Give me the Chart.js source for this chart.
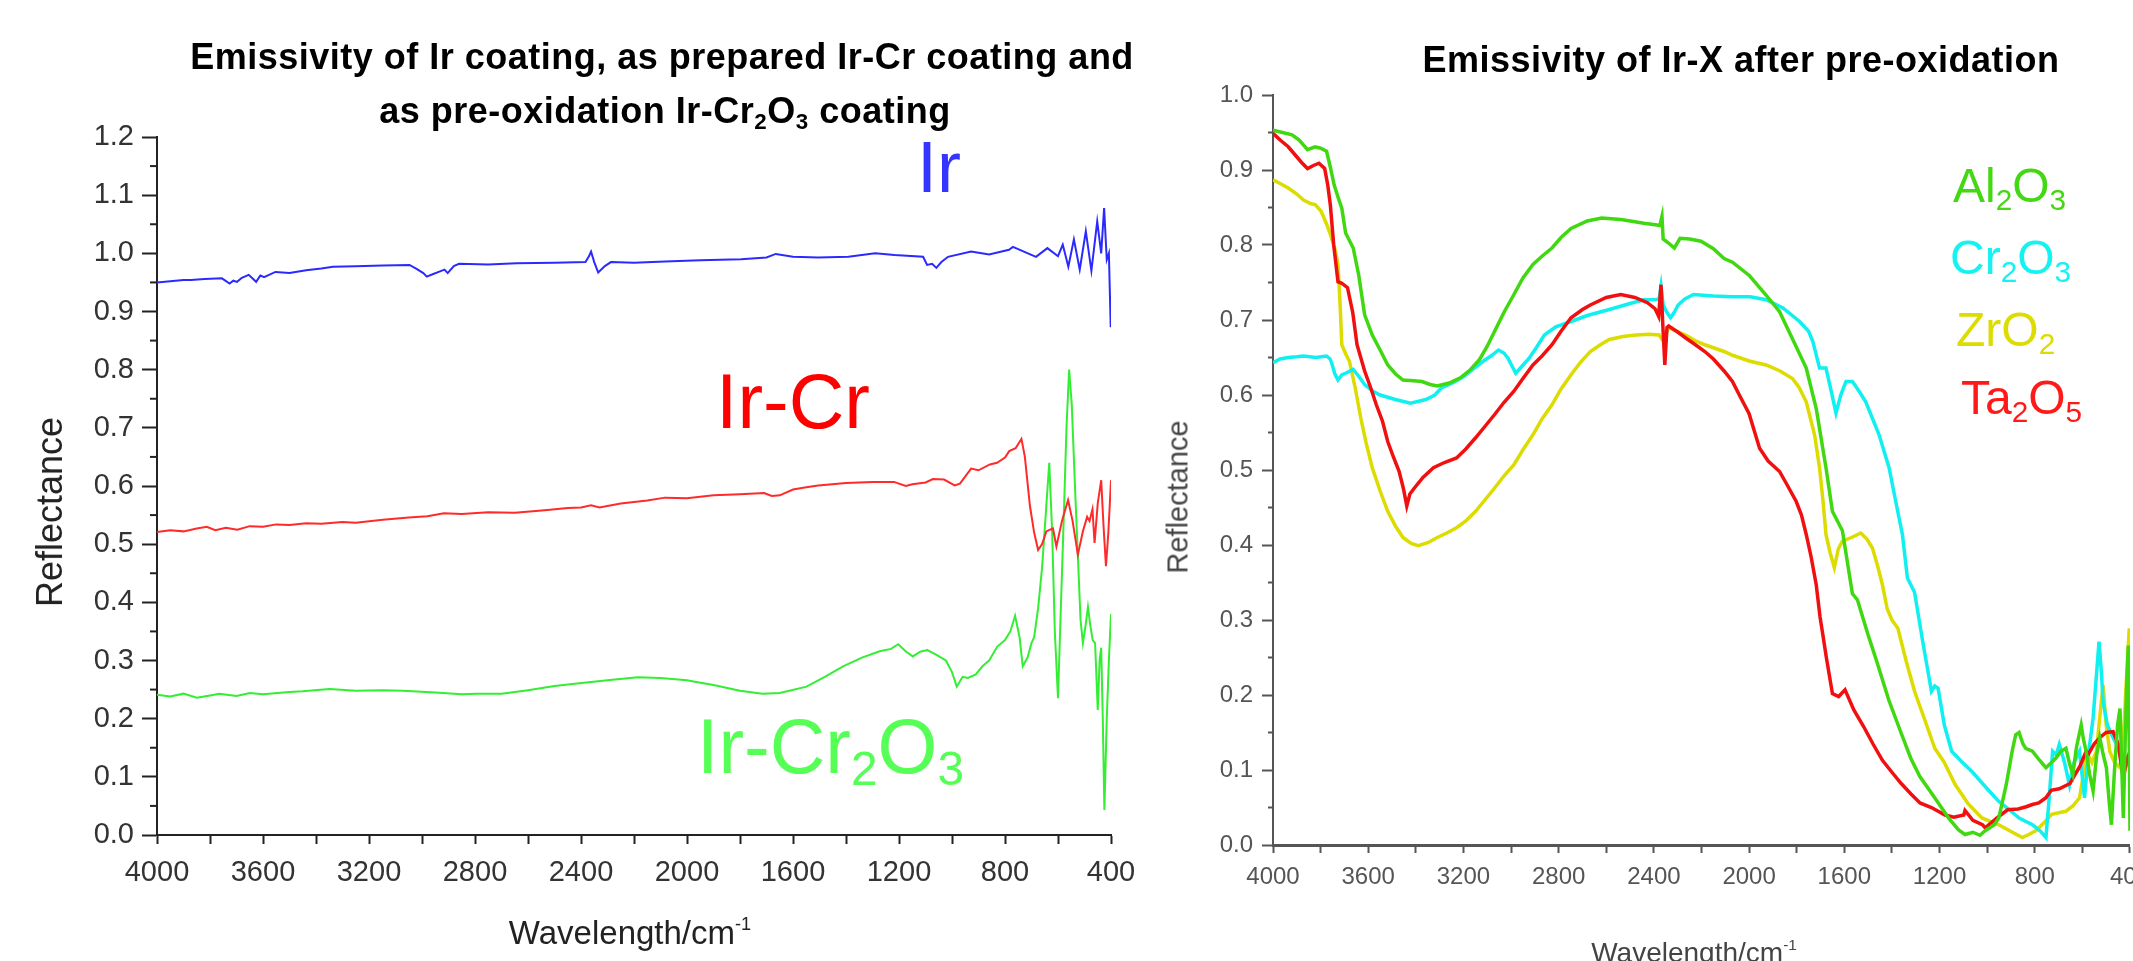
<!DOCTYPE html>
<html>
<head>
<meta charset="utf-8">
<script src="https://cdn.jsdelivr.net/npm/chart.js@4.4.1/dist/chart.umd.min.js"></script>
<style>
    html, body { margin: 0; padding: 0; background: #fff; }
    body { width: 2133px; height: 961px; overflow: hidden; position: relative; }
    .box { position: absolute; top: 0; height: 961px; }
    #leftBox { left: 0; width: 1150px; }
    #rightBox { left: 1150px; width: 1010px; }
    .t { position: absolute; white-space: nowrap; line-height: 1; font-family: 'Liberation Sans', Arial, sans-serif; }
    .t sub { font-size: 0.62em; vertical-align: -0.26em; line-height: 0; }
    .t sup { font-size: 0.55em; vertical-align: 0.75em; line-height: 0; }
    .ctr { transform: translateX(-50%); }
    .rot { transform: translate(-50%, -50%) rotate(-90deg); }
    .ttl { font-weight: bold; font-size: 36px; letter-spacing: 0.5px; color: #000; }
</style>
</head>
<body>
<div class="box" id="leftBox"><canvas id="leftChart"></canvas></div>
<div class="box" id="rightBox"><canvas id="rightChart"></canvas></div>

<div class="t ttl ctr" style="left:662px; top:39px;">Emissivity of Ir coating, as prepared Ir-Cr coating and</div>
<div class="t ttl ctr" style="left:665px; top:93px;">as pre-oxidation Ir-Cr<sub>2</sub>O<sub>3</sub> coating</div>
<div class="t ttl ctr" style="left:1741px; top:42px;">Emissivity of Ir-X after pre-oxidation</div>

<div class="t" style="left:917px; top:131px; font-size:72px; color:#3535ff;">Ir</div>
<div class="t" style="left:716px; top:363px; font-size:77px; color:#ff0000;">Ir-Cr</div>
<div class="t" style="left:697px; top:708px; font-size:77px; color:#55ff55;">Ir-Cr<sub>2</sub>O<sub>3</sub></div>

<div class="t" style="left:1953px; top:162px; font-size:48px; color:#44d814;">Al<sub>2</sub>O<sub>3</sub></div>
<div class="t" style="left:1950px; top:234px; font-size:48px; color:#15f2f2;">Cr<sub>2</sub>O<sub>3</sub></div>
<div class="t" style="left:1956px; top:306px; font-size:48px; color:#dcdc00;">ZrO<sub>2</sub></div>
<div class="t" style="left:1961px; top:374px; font-size:48px; color:#ff1a1a;">Ta<sub>2</sub>O<sub>5</sub></div>

<div class="t rot" style="left:50px; top:512px; font-size:36px; color:#222;">Reflectance</div>
<div class="t rot" style="left:1178px; top:497px; font-size:29px; color:#444;">Reflectance</div>
<div class="t ctr" style="left:630px; top:916px; font-size:33px; color:#222;">Wavelength/cm<sup>-1</sup></div>
<div class="t ctr" style="left:1694px; top:939px; font-size:28px; color:#444;">Wavelength/cm<sup>-1</sup></div>

<script>
// left panel: [wavenumber (cm-1), reflectance]
const irSeries = [
    [4000, 0.950], [3950, 0.952], [3900, 0.954], [3872, 0.954], [3820, 0.956], [3755, 0.957],
    [3726, 0.948], [3712, 0.953], [3698, 0.951], [3680, 0.958], [3654, 0.963], [3640, 0.957],
    [3626, 0.951], [3610, 0.962], [3596, 0.959], [3553, 0.968], [3500, 0.966], [3437, 0.971],
    [3380, 0.974], [3336, 0.977], [3250, 0.978], [3148, 0.979], [3047, 0.980], [3019, 0.973],
    [2995, 0.966], [2982, 0.960], [2960, 0.964], [2932, 0.969], [2915, 0.972], [2903, 0.966],
    [2880, 0.978], [2860, 0.982], [2750, 0.981], [2643, 0.983], [2500, 0.984], [2383, 0.985],
    [2370, 0.995], [2362, 1.003], [2350, 0.985], [2335, 0.967], [2310, 0.978], [2287, 0.985],
    [2200, 0.984], [2083, 0.986], [1950, 0.988], [1796, 0.990], [1700, 0.993], [1665, 0.999],
    [1600, 0.994], [1505, 0.993], [1391, 0.994], [1290, 1.000], [1217, 0.997], [1109, 0.994],
    [1094, 0.980], [1075, 0.982], [1059, 0.975], [1040, 0.985], [1015, 0.994], [928, 1.003],
    [860, 0.998], [785, 1.006], [770, 1.011], [683, 0.994], [640, 1.009], [600, 0.995],
    [582, 1.015], [561, 0.977], [540, 1.024], [518, 0.972], [495, 1.038], [474, 0.970],
    [452, 1.055], [437, 1.000], [426, 1.078], [416, 0.989], [408, 1.000], [401, 0.873]
];
const irCrSeries = [
    [4000, 0.521], [3950, 0.524], [3900, 0.522], [3850, 0.527], [3812, 0.530], [3780, 0.524],
    [3740, 0.528], [3697, 0.525], [3650, 0.531], [3600, 0.530], [3550, 0.534], [3500, 0.533],
    [3437, 0.536], [3380, 0.535], [3300, 0.538], [3250, 0.537], [3148, 0.542], [3050, 0.546],
    [2980, 0.548], [2917, 0.553], [2850, 0.552], [2750, 0.555], [2650, 0.554], [2570, 0.557],
    [2517, 0.559], [2450, 0.562], [2400, 0.563], [2362, 0.567], [2330, 0.563], [2250, 0.570],
    [2150, 0.575], [2083, 0.580], [2000, 0.579], [1900, 0.584], [1800, 0.586], [1709, 0.588],
    [1680, 0.583], [1650, 0.584], [1600, 0.594], [1550, 0.598], [1505, 0.601], [1400, 0.605],
    [1300, 0.607], [1219, 0.607], [1174, 0.600], [1150, 0.603], [1100, 0.606], [1072, 0.612],
    [1030, 0.611], [990, 0.601], [970, 0.604], [928, 0.630], [900, 0.627], [857, 0.637],
    [830, 0.640], [800, 0.649], [784, 0.660], [760, 0.665], [738, 0.681], [725, 0.650],
    [706, 0.566], [690, 0.520], [675, 0.490], [660, 0.500], [644, 0.522], [630, 0.525],
    [619, 0.527], [606, 0.496], [585, 0.540], [562, 0.576], [545, 0.540], [525, 0.482],
    [506, 0.522], [490, 0.547], [481, 0.540], [470, 0.560], [462, 0.502], [450, 0.570],
    [437, 0.610], [428, 0.530], [419, 0.462], [410, 0.520], [400, 0.610]
];
const irCr2O3Series = [
    [4000, 0.241], [3950, 0.238], [3900, 0.243], [3850, 0.236], [3800, 0.240], [3765, 0.243],
    [3700, 0.239], [3650, 0.244], [3600, 0.242], [3500, 0.246], [3450, 0.247], [3349, 0.251],
    [3250, 0.248], [3150, 0.249], [3072, 0.248], [2950, 0.245], [2850, 0.242], [2795, 0.243],
    [2700, 0.243], [2600, 0.249], [2500, 0.256], [2380, 0.262], [2300, 0.266], [2186, 0.271],
    [2100, 0.270], [2000, 0.266], [1965, 0.263], [1900, 0.258], [1800, 0.248], [1716, 0.243],
    [1650, 0.244], [1549, 0.255], [1480, 0.272], [1411, 0.290], [1340, 0.305], [1273, 0.316],
    [1230, 0.320], [1203, 0.328], [1175, 0.316], [1148, 0.307], [1120, 0.315], [1093, 0.318],
    [1060, 0.310], [1023, 0.300], [1000, 0.280], [982, 0.255], [960, 0.272], [940, 0.270],
    [910, 0.276], [885, 0.290], [860, 0.300], [829, 0.324], [800, 0.335], [780, 0.350],
    [762, 0.377], [745, 0.340], [733, 0.290], [715, 0.305], [700, 0.330], [690, 0.340],
    [675, 0.390], [660, 0.460], [645, 0.560], [633, 0.640], [622, 0.520], [612, 0.350],
    [600, 0.235], [590, 0.380], [580, 0.520], [568, 0.700], [558, 0.800], [548, 0.740],
    [536, 0.600], [525, 0.480], [515, 0.370], [506, 0.330], [496, 0.360], [487, 0.392],
    [478, 0.360], [469, 0.335], [460, 0.330], [450, 0.215], [443, 0.300], [437, 0.322],
    [431, 0.200], [425, 0.043], [420, 0.130], [416, 0.200], [408, 0.300], [400, 0.380]
];

// right panel: [wavenumber (cm-1), reflectance]
const al2o3Series = [
    [4000, 0.953], [3960, 0.950], [3920, 0.947], [3890, 0.940], [3855, 0.927], [3823, 0.931],
    [3800, 0.929], [3775, 0.925], [3760, 0.905], [3743, 0.880], [3725, 0.862], [3711, 0.849],
    [3695, 0.816], [3663, 0.796], [3640, 0.760], [3615, 0.707], [3583, 0.680], [3550, 0.660],
    [3518, 0.640], [3485, 0.628], [3454, 0.620], [3410, 0.619], [3374, 0.618], [3340, 0.614],
    [3310, 0.612], [3260, 0.616], [3213, 0.623], [3170, 0.634], [3133, 0.647], [3100, 0.665],
    [3069, 0.685], [3030, 0.710], [2988, 0.734], [2950, 0.756], [2908, 0.774], [2870, 0.785],
    [2828, 0.796], [2790, 0.810], [2748, 0.822], [2680, 0.832], [2619, 0.836], [2539, 0.834],
    [2480, 0.831], [2442, 0.829], [2394, 0.827], [2375, 0.826], [2366, 0.838], [2361, 0.808],
    [2340, 0.803], [2314, 0.796], [2290, 0.809], [2250, 0.808], [2202, 0.805], [2150, 0.795],
    [2105, 0.782], [2070, 0.777], [1998, 0.759], [1928, 0.733], [1872, 0.711], [1818, 0.675],
    [1760, 0.636], [1718, 0.582], [1677, 0.503], [1650, 0.445], [1608, 0.419], [1566, 0.335],
    [1545, 0.327], [1500, 0.280], [1466, 0.247], [1413, 0.193], [1361, 0.149], [1320, 0.115],
    [1282, 0.091], [1240, 0.072], [1203, 0.055], [1160, 0.035], [1120, 0.020], [1093, 0.014],
    [1060, 0.017], [1030, 0.013], [1008, 0.019], [970, 0.027], [951, 0.036], [920, 0.080],
    [895, 0.125], [880, 0.147], [866, 0.150], [850, 0.135], [838, 0.129], [810, 0.125],
    [780, 0.113], [753, 0.103], [730, 0.110], [711, 0.116], [690, 0.125], [669, 0.129],
    [655, 0.110], [640, 0.094], [625, 0.130], [605, 0.160], [595, 0.140], [584, 0.125],
    [570, 0.095], [555, 0.072], [540, 0.120], [527, 0.143], [512, 0.120], [499, 0.103],
    [488, 0.060], [478, 0.027], [465, 0.100], [452, 0.160], [442, 0.182], [435, 0.110],
    [428, 0.036], [420, 0.140], [413, 0.220], [407, 0.266], [402, 0.100], [400, 0.019]
];
const ta2o5Series = [
    [4000, 0.949], [3970, 0.940], [3936, 0.931], [3912, 0.922], [3880, 0.910], [3855, 0.902],
    [3830, 0.906], [3807, 0.909], [3783, 0.902], [3770, 0.880], [3759, 0.853], [3745, 0.800],
    [3727, 0.751], [3711, 0.749], [3687, 0.743], [3665, 0.710], [3647, 0.667], [3615, 0.632],
    [3590, 0.610], [3566, 0.587], [3540, 0.565], [3518, 0.538], [3495, 0.518], [3470, 0.498],
    [3452, 0.475], [3438, 0.452], [3425, 0.468], [3406, 0.476], [3370, 0.490], [3326, 0.503],
    [3280, 0.510], [3229, 0.516], [3190, 0.528], [3149, 0.543], [3110, 0.558], [3069, 0.574],
    [3030, 0.590], [2988, 0.605], [2950, 0.622], [2908, 0.640], [2870, 0.652], [2828, 0.667],
    [2790, 0.685], [2748, 0.703], [2700, 0.714], [2667, 0.720], [2600, 0.730], [2539, 0.734],
    [2480, 0.730], [2427, 0.723], [2395, 0.715], [2380, 0.705], [2370, 0.747], [2362, 0.690],
    [2354, 0.640], [2345, 0.690], [2338, 0.692], [2300, 0.684], [2266, 0.676], [2230, 0.668],
    [2186, 0.658], [2150, 0.648], [2105, 0.632], [2070, 0.618], [2041, 0.600], [2000, 0.575],
    [1956, 0.529], [1920, 0.512], [1872, 0.498], [1840, 0.480], [1802, 0.458], [1780, 0.440],
    [1760, 0.414], [1740, 0.385], [1718, 0.347], [1702, 0.304], [1690, 0.280], [1676, 0.251],
    [1650, 0.202], [1624, 0.198], [1597, 0.207], [1560, 0.180], [1519, 0.158], [1480, 0.135],
    [1440, 0.113], [1400, 0.097], [1361, 0.082], [1320, 0.068], [1282, 0.056], [1234, 0.050],
    [1177, 0.040], [1140, 0.037], [1098, 0.040], [1093, 0.046], [1060, 0.033], [1020, 0.027],
    [1008, 0.023], [960, 0.036], [914, 0.047], [870, 0.048], [836, 0.051], [810, 0.054],
    [783, 0.056], [753, 0.063], [731, 0.073], [697, 0.075], [652, 0.082], [640, 0.089],
    [610, 0.105], [584, 0.125], [573, 0.122], [550, 0.135], [527, 0.143], [500, 0.150],
    [471, 0.151], [450, 0.135], [428, 0.089], [412, 0.115], [400, 0.125]
];
const cr2o3Series = [
    [4000, 0.643], [3970, 0.648], [3936, 0.650], [3900, 0.651], [3872, 0.652], [3820, 0.650],
    [3775, 0.652], [3760, 0.648], [3751, 0.640], [3740, 0.628], [3727, 0.620], [3710, 0.627],
    [3695, 0.629], [3663, 0.634], [3640, 0.625], [3615, 0.614], [3580, 0.605], [3550, 0.600],
    [3486, 0.594], [3422, 0.589], [3358, 0.594], [3320, 0.600], [3294, 0.609], [3240, 0.617],
    [3197, 0.625], [3150, 0.637], [3117, 0.645], [3080, 0.653], [3053, 0.660], [3030, 0.656],
    [3013, 0.649], [2995, 0.638], [2980, 0.629], [2955, 0.638], [2924, 0.649], [2890, 0.665],
    [2860, 0.680], [2812, 0.691], [2748, 0.698], [2680, 0.706], [2587, 0.714], [2500, 0.722],
    [2442, 0.727], [2394, 0.727], [2378, 0.728], [2370, 0.745], [2361, 0.720], [2345, 0.710],
    [2330, 0.703], [2315, 0.710], [2298, 0.720], [2270, 0.728], [2234, 0.734], [2150, 0.732],
    [2070, 0.731], [1996, 0.731], [1928, 0.727], [1858, 0.716], [1788, 0.698], [1750, 0.685],
    [1732, 0.671], [1704, 0.636], [1677, 0.636], [1655, 0.605], [1635, 0.576], [1615, 0.600],
    [1593, 0.618], [1566, 0.618], [1540, 0.606], [1510, 0.591], [1454, 0.547], [1412, 0.503],
    [1384, 0.458], [1356, 0.414], [1335, 0.356], [1305, 0.337], [1270, 0.270], [1234, 0.205],
    [1220, 0.212], [1206, 0.209], [1180, 0.160], [1149, 0.125], [1110, 0.112], [1064, 0.098],
    [1000, 0.075], [951, 0.058], [910, 0.048], [866, 0.036], [810, 0.027], [775, 0.018],
    [753, 0.010], [740, 0.060], [725, 0.125], [710, 0.120], [697, 0.134], [675, 0.110],
    [654, 0.080], [635, 0.110], [612, 0.125], [600, 0.090], [591, 0.063], [575, 0.120],
    [555, 0.169], [540, 0.230], [530, 0.271], [520, 0.230], [513, 0.191], [495, 0.160],
    [471, 0.143], [442, 0.125], [414, 0.107], [400, 0.115]
];
const zro2Series = [
    [4000, 0.887], [3970, 0.882], [3936, 0.876], [3900, 0.868], [3872, 0.860], [3840, 0.855],
    [3823, 0.854], [3800, 0.846], [3791, 0.840], [3775, 0.828], [3759, 0.814], [3740, 0.795],
    [3727, 0.774], [3718, 0.720], [3711, 0.667], [3695, 0.655], [3679, 0.645], [3655, 0.610],
    [3631, 0.569], [3608, 0.535], [3583, 0.503], [3550, 0.472], [3518, 0.445], [3485, 0.425],
    [3454, 0.410], [3420, 0.402], [3390, 0.399], [3350, 0.403], [3310, 0.410], [3270, 0.416],
    [3229, 0.423], [3190, 0.432], [3149, 0.445], [3110, 0.460], [3069, 0.476], [3030, 0.492],
    [2988, 0.507], [2950, 0.527], [2908, 0.547], [2870, 0.568], [2828, 0.587], [2790, 0.608],
    [2748, 0.627], [2710, 0.643], [2667, 0.658], [2620, 0.668], [2587, 0.674], [2530, 0.678],
    [2475, 0.680], [2420, 0.681], [2378, 0.680], [2361, 0.672], [2350, 0.680], [2338, 0.690],
    [2300, 0.684], [2266, 0.680], [2230, 0.673], [2186, 0.667], [2150, 0.663], [2105, 0.658],
    [2070, 0.653], [1996, 0.645], [1928, 0.640], [1870, 0.632], [1818, 0.622], [1790, 0.610],
    [1760, 0.591], [1725, 0.547], [1704, 0.503], [1690, 0.460], [1677, 0.414], [1660, 0.390],
    [1642, 0.370], [1625, 0.395], [1608, 0.405], [1570, 0.410], [1531, 0.416], [1505, 0.408],
    [1482, 0.396], [1460, 0.372], [1440, 0.347], [1420, 0.315], [1400, 0.300], [1375, 0.289],
    [1340, 0.245], [1305, 0.205], [1260, 0.165], [1220, 0.129], [1180, 0.110], [1135, 0.081],
    [1080, 0.055], [1022, 0.036], [951, 0.027], [900, 0.018], [852, 0.010], [825, 0.014],
    [796, 0.019], [760, 0.030], [729, 0.041], [700, 0.043], [669, 0.045], [640, 0.052],
    [612, 0.063], [595, 0.095], [584, 0.125], [560, 0.110], [541, 0.125], [527, 0.170],
    [513, 0.213], [500, 0.160], [485, 0.125], [465, 0.110], [442, 0.103], [425, 0.160],
    [410, 0.250], [403, 0.289], [400, 0.200]
];

const pts = arr => arr.map(([x, y]) => ({ x: x, y: y }));

// short minor ticks on the y axis, halfway between the labelled ones
const minorTicks = {
    id: 'minorTicks',
    afterDraw(chart, args, opts) {
        const y = chart.scales.y;
        const ctx = chart.ctx;
        ctx.save();
        ctx.strokeStyle = opts.color;
        ctx.lineWidth = opts.width;
        for (let v = opts.step / 2; v < y.max; v += opts.step) {
            const py = y.getPixelForValue(v);
            ctx.beginPath();
            ctx.moveTo(y.right - opts.len, py);
            ctx.lineTo(y.right, py);
            ctx.stroke();
        }
        ctx.restore();
    }
};

Chart.defaults.font.family = "'Liberation Sans', Arial, sans-serif";

new Chart(document.getElementById('leftChart'), {
    type: 'line',
    data: {
        datasets: [{
            label: 'Ir',
            data: pts(irSeries),
            borderColor: '#2a2aff',
            borderWidth: 2
        }, {
            label: 'Ir-Cr',
            data: pts(irCrSeries),
            borderColor: '#ff2a2a',
            borderWidth: 2
        }, {
            label: 'Ir-Cr2O3',
            data: pts(irCr2O3Series),
            borderColor: '#33ee33',
            borderWidth: 2
        }]
    },
    options: {
        responsive: true,
        maintainAspectRatio: false,
        animation: false,
        elements: { point: { radius: 0 }, line: { tension: 0 } },
        layout: { padding: { left: 0, top: 137, right: 39, bottom: 0 } },
        plugins: {
            legend: { display: false },
            tooltip: { enabled: false },
            minorTicks: { step: 0.1, len: 7, color: '#222', width: 2 }
        },
        scales: {
            x: {
                type: 'linear',
                reverse: true,
                min: 400,
                max: 4000,
                afterFit: s => { s.height = 126; },
                grid: { drawOnChartArea: false, drawTicks: true, tickLength: 9, tickWidth: 2, tickColor: '#222' },
                border: { color: '#222', width: 2 },
                ticks: {
                    stepSize: 200,
                    autoSkip: false,
                    maxRotation: 0,
                    padding: 12,
                    color: '#333',
                    font: { size: 29 },
                    callback: v => (v % 400 === 0 ? String(v) : '')
                }
            },
            y: {
                min: 0,
                max: 1.2,
                afterFit: s => { s.width = 157; },
                grid: { drawOnChartArea: false, drawTicks: true, tickLength: 15, tickWidth: 2, tickColor: '#222' },
                border: { color: '#222', width: 2 },
                ticks: {
                    stepSize: 0.1,
                    padding: 8,
                    color: '#333',
                    font: { size: 29 },
                    callback: v => v.toFixed(1)
                }
            }
        }
    },
    plugins: [minorTicks]
});

new Chart(document.getElementById('rightChart'), {
    type: 'line',
    data: {
        datasets: [{
            label: 'Al2O3',
            data: pts(al2o3Series),
            borderColor: '#40d810',
            borderWidth: 3.5
        }, {
            label: 'Ta2O5',
            data: pts(ta2o5Series),
            borderColor: '#f01010',
            borderWidth: 3.5
        }, {
            label: 'Cr2O3',
            data: pts(cr2o3Series),
            borderColor: '#10f0f0',
            borderWidth: 3.5
        }, {
            label: 'ZrO2',
            data: pts(zro2Series),
            borderColor: '#dcdc00',
            borderWidth: 3.5
        }]
    },
    options: {
        responsive: true,
        maintainAspectRatio: false,
        animation: false,
        elements: { point: { radius: 0 }, line: { tension: 0 } },
        layout: { padding: { left: 0, top: 95, right: 29, bottom: 0 } },
        plugins: {
            legend: { display: false },
            tooltip: { enabled: false },
            minorTicks: { step: 0.1, len: 5, color: '#555', width: 2 }
        },
        scales: {
            x: {
                type: 'linear',
                reverse: true,
                min: 400,
                max: 4000,
                afterFit: s => { s.height = 116; },
                grid: { drawOnChartArea: false, drawTicks: true, tickLength: 8, tickWidth: 2, tickColor: '#555' },
                border: { color: '#555', width: 3 },
                ticks: {
                    stepSize: 200,
                    autoSkip: false,
                    maxRotation: 0,
                    padding: 10,
                    color: '#555',
                    font: { size: 24 },
                    callback: v => (v % 400 === 0 ? String(v) : '')
                }
            },
            y: {
                min: 0,
                max: 1.0,
                afterFit: s => { s.width = 123; },
                grid: { drawOnChartArea: false, drawTicks: true, tickLength: 11, tickWidth: 2, tickColor: '#555' },
                border: { color: '#555', width: 2 },
                ticks: {
                    stepSize: 0.1,
                    padding: 9,
                    color: '#555',
                    font: { size: 24 },
                    callback: v => v.toFixed(1)
                }
            }
        }
    },
    plugins: [minorTicks]
});
</script>
</body>
</html>
